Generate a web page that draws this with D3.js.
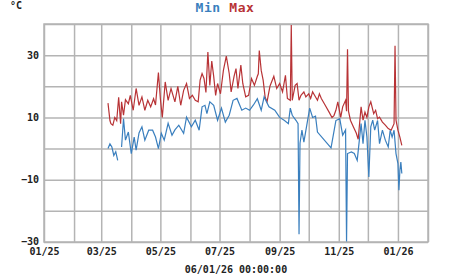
<!DOCTYPE html>
<html>
<head>
<meta charset="utf-8">
<script src="https://cdn.jsdelivr.net/npm/d3@7"></script>
<style>
  body { margin: 0; background: #fff; }
  text { font-family: "DejaVu Sans Mono", monospace; font-weight: bold; }
</style>
</head>
<body>
<div id="chart"></div>
<script>
// daily max / min temperatures
var maxDates = ["2025-03-08","2025-03-10","2025-03-11","2025-03-13","2025-03-15","2025-03-17","2025-03-19","2025-03-21","2025-03-22","2025-03-24","2025-03-26","2025-03-29","2025-03-31","2025-04-03","2025-04-06","2025-04-09","2025-04-12","2025-04-15","2025-04-18","2025-04-21","2025-04-24","2025-04-26","2025-04-29","2025-05-01","2025-05-03","2025-05-06","2025-05-09","2025-05-12","2025-05-16","2025-05-19","2025-05-22","2025-05-25","2025-05-28","2025-05-31","2025-06-03","2025-06-06","2025-06-09","2025-06-11","2025-06-13","2025-06-15","2025-06-17","2025-06-19","2025-06-21","2025-06-23","2025-06-25","2025-06-27","2025-06-29","2025-07-02","2025-07-05","2025-07-08","2025-07-11","2025-07-13","2025-07-16","2025-07-18","2025-07-20","2025-07-23","2025-07-25","2025-07-28","2025-07-31","2025-08-03","2025-08-06","2025-08-09","2025-08-10","2025-08-11","2025-08-13","2025-08-15","2025-08-17","2025-08-19","2025-08-22","2025-08-26","2025-08-29","2025-09-01","2025-09-04","2025-09-07","2025-09-09","2025-09-12","2025-09-13","2025-09-14","2025-09-17","2025-09-19","2025-09-21","2025-09-23","2025-09-26","2025-09-28","2025-10-01","2025-10-03","2025-10-05","2025-10-07","2025-10-10","2025-10-12","2025-10-14","2025-10-18","2025-10-22","2025-10-25","2025-10-27","2025-10-29","2025-10-31","2025-11-03","2025-11-05","2025-11-08","2025-11-09","2025-11-10","2025-11-11","2025-11-13","2025-11-16","2025-11-19","2025-11-21","2025-11-24","2025-11-26","2025-11-28","2025-11-30","2025-12-02","2025-12-04","2025-12-07","2025-12-09","2025-12-11","2025-12-13","2025-12-16","2025-12-19","2025-12-22","2025-12-25","2025-12-28","2025-12-29","2025-12-30","2026-01-01","2026-01-03","2026-01-05"];
var maxValues = [14.6,9,8,7.5,10,9,16.5,8,15,10.7,15.7,14.4,17.1,12.3,19.3,13.9,16.6,12.3,15.5,13.4,16,14,24.4,16,10,21.4,15.5,19.3,15,20,13.9,18.7,20.9,16.1,17.1,15.5,15,22,24.1,22.5,18,31,20.3,28.1,23.2,17.1,20.9,17.6,25.1,29.7,24.1,18.2,23.2,25.7,19.3,26.8,20.9,16.6,17.1,22.5,20.3,23.2,24,31.5,25.1,22,16.6,15,20,23.2,19.3,20.9,18.2,23.5,16.1,15.5,39.7,15.5,20.3,20.9,15.5,17.1,18.2,16.6,17.6,16.1,18.2,17.1,15.5,17.6,16.1,13.9,11.7,10,10.6,12.3,15,10,13.4,15.5,12,31.9,12,9.1,7,5,3,13.4,9.1,11.7,10,13.4,15,11.2,12.3,9.6,10.1,8.5,7.5,6.4,5.9,8,33,9.1,5.9,3.7,1];

var minDates = ["2025-03-08","2025-03-10","2025-03-12","2025-03-14","2025-03-16","2025-03-18","2025-03-20","2025-03-22","2025-03-24","2025-03-26","2025-03-29","2025-04-01","2025-04-04","2025-04-06","2025-04-09","2025-04-12","2025-04-15","2025-04-19","2025-04-23","2025-04-26","2025-04-29","2025-05-02","2025-05-05","2025-05-09","2025-05-13","2025-05-16","2025-05-20","2025-05-25","2025-05-28","2025-06-02","2025-06-06","2025-06-10","2025-06-13","2025-06-16","2025-06-18","2025-06-21","2025-06-25","2025-06-29","2025-07-03","2025-07-07","2025-07-11","2025-07-15","2025-07-19","2025-07-24","2025-07-28","2025-08-01","2025-08-05","2025-08-09","2025-08-13","2025-08-16","2025-08-21","2025-08-27","2025-09-01","2025-09-06","2025-09-10","2025-09-12","2025-09-14","2025-09-18","2025-09-20","2025-09-21","2025-09-22","2025-09-24","2025-09-26","2025-10-02","2025-10-05","2025-10-08","2025-10-10","2025-10-24","2025-10-29","2025-11-02","2025-11-05","2025-11-08","2025-11-09","2025-11-10","2025-11-14","2025-11-17","2025-11-20","2025-11-24","2025-11-26","2025-11-28","2025-11-30","2025-12-02","2025-12-04","2025-12-06","2025-12-08","2025-12-11","2025-12-13","2025-12-16","2025-12-19","2025-12-22","2025-12-24","2025-12-26","2025-12-28","2025-12-30","2026-01-01","2026-01-02","2026-01-03","2026-01-04","2026-01-05"];
var minValues = [0,1.5,0.5,-2.2,-1,-3.8,null,0.5,9.6,2.7,5.3,-1.6,3.7,-0.5,5,7,2.7,5.9,5.9,3.7,0,4.9,2.7,8.1,4.3,6,7.5,4.9,10.1,7,9.1,5.9,13.4,13.9,11.2,15,13.9,9.1,13,8.5,10.7,15.5,16.1,12.3,13,12.3,14,16,12.3,16.6,13.4,12.3,10,9,8,13,10.7,9,8,-27.5,1.7,5.9,2.1,13,10,10.4,5.3,0.2,9,9.6,4.3,6,-29.8,-1.6,-1.1,-1.6,-3.8,8,1.6,9.1,3.7,-9.1,7,9.1,5.9,9,1.6,5.9,2.7,0.5,5.9,3.7,5.9,-1.6,-4.8,-13.4,-7,-4.3,-8];

var yGrid = [-30, -20, -10, 0, 10, 20, 30, 40];
var yLabels = [-30, -10, 10, 30];
var titleText = "06/01/26 00:00:00";
var unitText = "°C";

var W = 451, H = 275;
var margin = {left: 44, right: 23, top: 24, bottom: 33};
var blue = "#3a7fbe", red = "#b83336", gridColor = "#b4b4b4";

var parse = d3.timeParse("%Y-%m-%d");
var maxData = maxDates.map(function(d, i){ return {date: parse(d), value: maxValues[i]}; });
var minData = minDates.map(function(d, i){ return {date: parse(d), value: minValues[i]}; });

var x = d3.scaleTime()
	.domain([new Date(2025, 0, 1), new Date(2026, 1, 1)])
	.range([margin.left, W - margin.right]);
var y = d3.scaleLinear()
	.domain([-30, 40])
	.range([H - margin.bottom, margin.top]);

var svg = d3.select("#chart").append("svg")
	.attr("width", W)
	.attr("height", H);

var months = d3.timeMonth.range(new Date(2025, 0, 1), new Date(2026, 1, 2));

// grid
var gx = svg.append("g")
	.attr("transform", "translate(0," + (H - margin.bottom) + ")")
	.call(d3.axisBottom(x).tickValues(months).tickSize(-(H - margin.top - margin.bottom)).tickFormat(""));
var gy = svg.append("g")
	.attr("transform", "translate(" + margin.left + ",0)")
	.call(d3.axisLeft(y).tickValues(yGrid).tickSize(-(W - margin.left - margin.right)).tickFormat(""));
[gx, gy].forEach(function(g){
	g.select(".domain").remove();
	g.selectAll("line").attr("stroke", gridColor).attr("stroke-width", 1.5);
});
svg.append("rect")
	.attr("x", margin.left).attr("y", margin.top)
	.attr("width", W - margin.left - margin.right)
	.attr("height", H - margin.top - margin.bottom)
	.attr("fill", "none").attr("stroke", gridColor).attr("stroke-width", 1.5);

// tick labels
var labelMonths = months.filter(function(d){ return d.getMonth() % 2 == 0; });
var ax = svg.append("g")
	.attr("transform", "translate(0," + (H - margin.bottom) + ")")
	.call(d3.axisBottom(x).tickValues(labelMonths).tickSize(0).tickPadding(6).tickFormat(d3.timeFormat("%m/%y")));
var ay = svg.append("g")
	.attr("transform", "translate(" + margin.left + ",0)")
	.call(d3.axisLeft(y).tickValues(yLabels).tickSize(0).tickPadding(5));
[ax, ay].forEach(function(g){
	g.select(".domain").remove();
	g.selectAll("text")
		.attr("font-family", "DejaVu Sans Mono")
		.attr("font-weight", "bold")
		.attr("font-size", 10)
		.attr("fill", "#222");
});
ay.selectAll("text").filter(function(d){ return d == -30; }).attr("dy", "0.2em");

// lines
var line = d3.line()
	.defined(function(d){ return d.value != null; })
	.x(function(d){ return x(d.date); })
	.y(function(d){ return y(d.value); });

svg.append("path").datum(maxData)
	.attr("d", line).attr("fill", "none")
	.attr("stroke", red).attr("stroke-width", 1.2);
svg.append("path").datum(minData)
	.attr("d", line).attr("fill", "none")
	.attr("stroke", blue).attr("stroke-width", 1.2);

// title
var title = svg.append("text")
	.attr("x", 225).attr("y", 12)
	.attr("text-anchor", "middle")
	.attr("font-size", 13)
	.attr("letter-spacing", 0.6);
title.append("tspan").attr("fill", blue).text("Min");
title.append("tspan").attr("fill", red).text(" Max");

svg.append("text")
	.attr("x", 10).attr("y", 9)
	.attr("font-size", 10)
	.attr("fill", "#222")
	.text(unitText);

svg.append("text")
	.attr("x", (margin.left + W - margin.right) / 2).attr("y", 273)
	.attr("text-anchor", "middle")
	.attr("font-size", 10)
	.attr("fill", "#222")
	.text(titleText);
</script>
</body>
</html>
